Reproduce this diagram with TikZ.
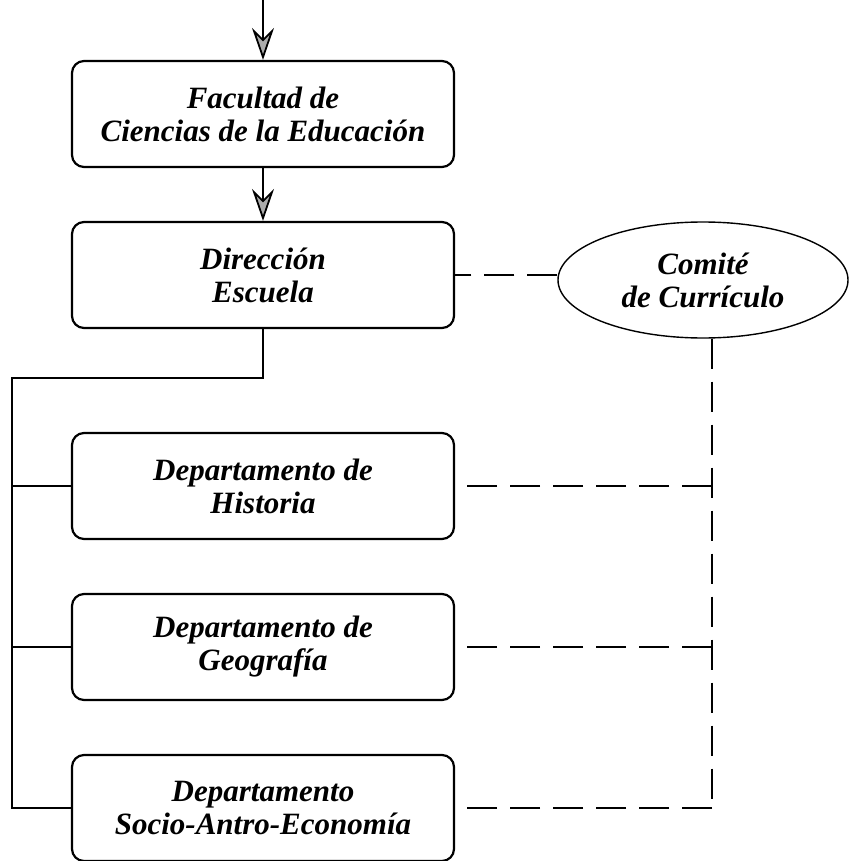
\documentclass[tikz,border=0pt]{standalone}
\usepackage{fontspec}
\setmainfont{Liberation Serif}
\usetikzlibrary{arrows.meta}
\usetikzlibrary{shapes.geometric}
\tikzset{
    mybox/.style = {rectangle, rounded corners=12pt, draw=black, line width=2.2pt, align=center, minimum width=382pt, minimum height=106pt, font=\fontsize{31}{33}\selectfont\bfseries\itshape},
    myell/.style = {ellipse, draw=black, line width=1.4pt, align=center, minimum width=290pt, minimum height=116pt, inner sep=0pt, font=\fontsize{31}{33}\selectfont\bfseries\itshape},
}
\begin{document}
\begin{tikzpicture}[x=1pt, y=-1pt]
\tikzset{
    edgen/.style = {line width=1.4pt},
    edged/.style = {line width=2.8pt, dash pattern=on 30pt off 13pt},
    edgea/.style = {line width=1.8pt, -{Stealth[length=32pt, width=22pt, inset=11pt, fill=gray!65]}}
}
\useasboundingbox (0,0) rectangle (849,861);
\node[mybox] at (263,114) (fac) {Facultad de\\Ciencias de la Educación};
\node[mybox] at (263,275) (dir) {Dirección\\Escuela};
\node[mybox] at (263,486) (his) {Departamento de\\Historia};
\node[mybox] at (263,647) (geo) {Departamento de\\Geografía};
\node[mybox] at (263,808) (soc) {Departamento\\Socio-Antro-Economía};
\node[myell] at (703,280) (com) {Comité\\de Currículo};
%
\coordinate (top) at (263,0);
\coordinate (j1) at (263,378);
\coordinate (j2) at (12,378);
\coordinate (j3) at (12,808);
\coordinate (d1) at (712,486);
\coordinate (d2) at (712,647);
\coordinate (d3) at (712,808);
%
\draw[edgea] (top) -- (fac);
\draw[edgea] (fac) -- (dir);
%
\draw[edgen] (dir.south) -- (j1) -- (j2) -- (j3) -- (soc.west);
\draw[edgen] (j2 |- his.west) -- (his.west);
\draw[edgen] (j2 |- geo.west) -- (geo.west);
%
\draw[edged] (dir.east -| com.west) -- (dir.east);
\draw[edged] (com.south -| d1) -- (d3);
\draw[edged] (d1) -- (his.east);
\draw[edged] (d2) -- (geo.east);
\draw[edged] (d3) -- (soc.east);
\end{tikzpicture}
\end{document}
